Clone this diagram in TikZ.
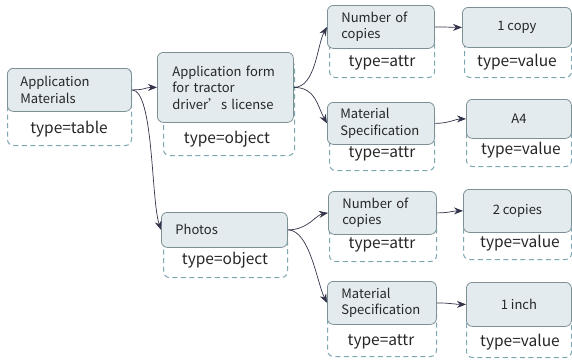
\documentclass[tikz,border=0pt]{standalone}
\usepackage{fontspec}
\setmainfont{Noto Sans CJK SC}
\usetikzlibrary{arrows.meta}
\definecolor{boxfill}{HTML}{E3EBEE}
\definecolor{boxdraw}{HTML}{7D9096}
\definecolor{dashc}{HTML}{7FA7B2}
\definecolor{arr}{HTML}{33334A}
\definecolor{txt}{HTML}{262626}
\begin{document}
\begin{tikzpicture}[x=1pt,y=-1pt,
  mbox/.style={draw=boxdraw, fill=boxfill, text=txt, rounded corners=6pt, line width=0.8pt, anchor=north west, inner sep=0pt, font=\fontsize{13}{16.5}\selectfont, align=left},
  vbox/.style={draw=boxdraw, fill=boxfill, text=txt, rounded corners=6pt, line width=0.8pt, anchor=north west, inner sep=0pt, font=\fontsize{13}{16.5}\selectfont, align=center},
  dbox/.style={draw=dashc, dash pattern=on 5pt off 3.5pt, rounded corners=6pt, line width=1pt, anchor=north west, inner sep=0pt},
  lbl/.style={font=\fontsize{15.5}{17}\selectfont, text=txt, anchor=center, inner sep=0pt},
  link/.style={draw=arr, line width=0.7pt, -{Stealth[length=9pt,width=7pt]}}
]
\useasboundingbox (0,0) rectangle (572,359);
% dashed boxes
\node[dbox, minimum width=124pt, minimum height=77pt] (amD) at (7,68) {};
\node[dbox, minimum width=131pt, minimum height=95pt] (afD) at (163,60) {};
\node[dbox, minimum width=105pt, minimum height=47pt] (nc1D) at (329,30) {};
\node[dbox, minimum width=107pt, minimum height=47pt] (v1D) at (464,30) {};
\node[dbox, minimum width=105pt, minimum height=60pt] (ms1D) at (329,110) {};
\node[dbox, minimum width=105pt, minimum height=56pt] (v2D) at (466,110) {};
\node[dbox, minimum width=124pt, minimum height=57pt] (phD) at (163,220) {};
\node[dbox, minimum width=107pt, minimum height=61pt] (nc2D) at (329,200) {};
\node[dbox, minimum width=108pt, minimum height=59pt] (v3D) at (463,200) {};
\node[dbox, minimum width=109pt, minimum height=56pt] (ms2D) at (327,300) {};
\node[dbox, minimum width=105pt, minimum height=57pt] (v4D) at (466,300) {};
% filled boxes
\node[mbox, minimum width=124pt, minimum height=43pt, text width=98pt] (am) at (7,68) {Application\\Materials};
\node[mbox, minimum width=136pt, minimum height=70pt, text width=106pt] (af) at (157,52) {Application form\\for tractor\\driver’s license};
\node[mbox, minimum width=107pt, minimum height=43pt, text width=79pt] (nc1) at (327,5) {Number of\\copies};
\node[vbox, minimum width=109pt, minimum height=40pt] (v1) at (462,7) {1 copy};
\node[mbox, minimum width=107pt, minimum height=42pt, text width=81pt] (ms1) at (327,102) {Material\\Specification};
\node[vbox, minimum width=105pt, minimum height=39pt] (v2) at (466,99) {A4};
\node[mbox, minimum width=126pt, minimum height=35pt, text width=98pt] (ph) at (161,212) {Photos};
\node[mbox, minimum width=108pt, minimum height=43pt, text width=80pt] (nc2) at (328,191) {Number of\\copies};
\node[vbox, minimum width=108pt, minimum height=43pt] (v3) at (463,189) {2 copies};
\node[mbox, minimum width=109pt, minimum height=43pt, text width=81pt] (ms2) at (327,281) {Material\\Specification};
\node[vbox, minimum width=105pt, minimum height=44pt] (v4) at (466,282) {1 inch};
% labels
\node[lbl] (amL) at (69,129) {type=table};
\node[lbl] (afL) at (227,139) {type=object};
\node[lbl] (nc1L) at (382,63) {type=attr};
\node[lbl] (v1L) at (517,62) {type=value};
\node[lbl] (ms1L) at (382,154) {type=attr};
\node[lbl] (v2L) at (521,150) {type=value};
\node[lbl] (phL) at (225,260) {type=object};
\node[lbl] (nc2L) at (382,245) {type=attr};
\node[lbl] (v3L) at (520,243) {type=value};
\node[lbl] (ms2L) at (381,342) {type=attr};
\node[lbl] (v4L) at (520,342) {type=value};
% links
\draw[link] (am.east) .. controls +(14,0) and +(-12,0) .. (af.west);
\draw[link] (am.east) .. controls +(22,0) and +(-10,-30) .. (ph.west);
\draw[link] (af.east) .. controls +(22,0) and +(-10,18) .. (nc1.west);
\draw[link] (af.east) .. controls +(22,0) and +(-10,-18) .. (ms1.west);
\draw[link] (ph.east) .. controls +(20,0) and +(-12,2) .. (nc2.west);
\draw[link] (ph.east) .. controls +(22,0) and +(-10,-20) .. (ms2.west);
\draw[link] (nc1.east) .. controls +(12,0) and +(-10,0) .. (v1.west);
\draw[link] (ms1.east) .. controls +(14,0) and +(-10,0) .. (v2.west);
\draw[link] (nc2.east) .. controls +(12,0) and +(-10,0) .. (v3.west);
\draw[link] (ms2.east) .. controls +(12,0) and +(-10,0) .. (v4.west);
\end{tikzpicture}
\end{document}
